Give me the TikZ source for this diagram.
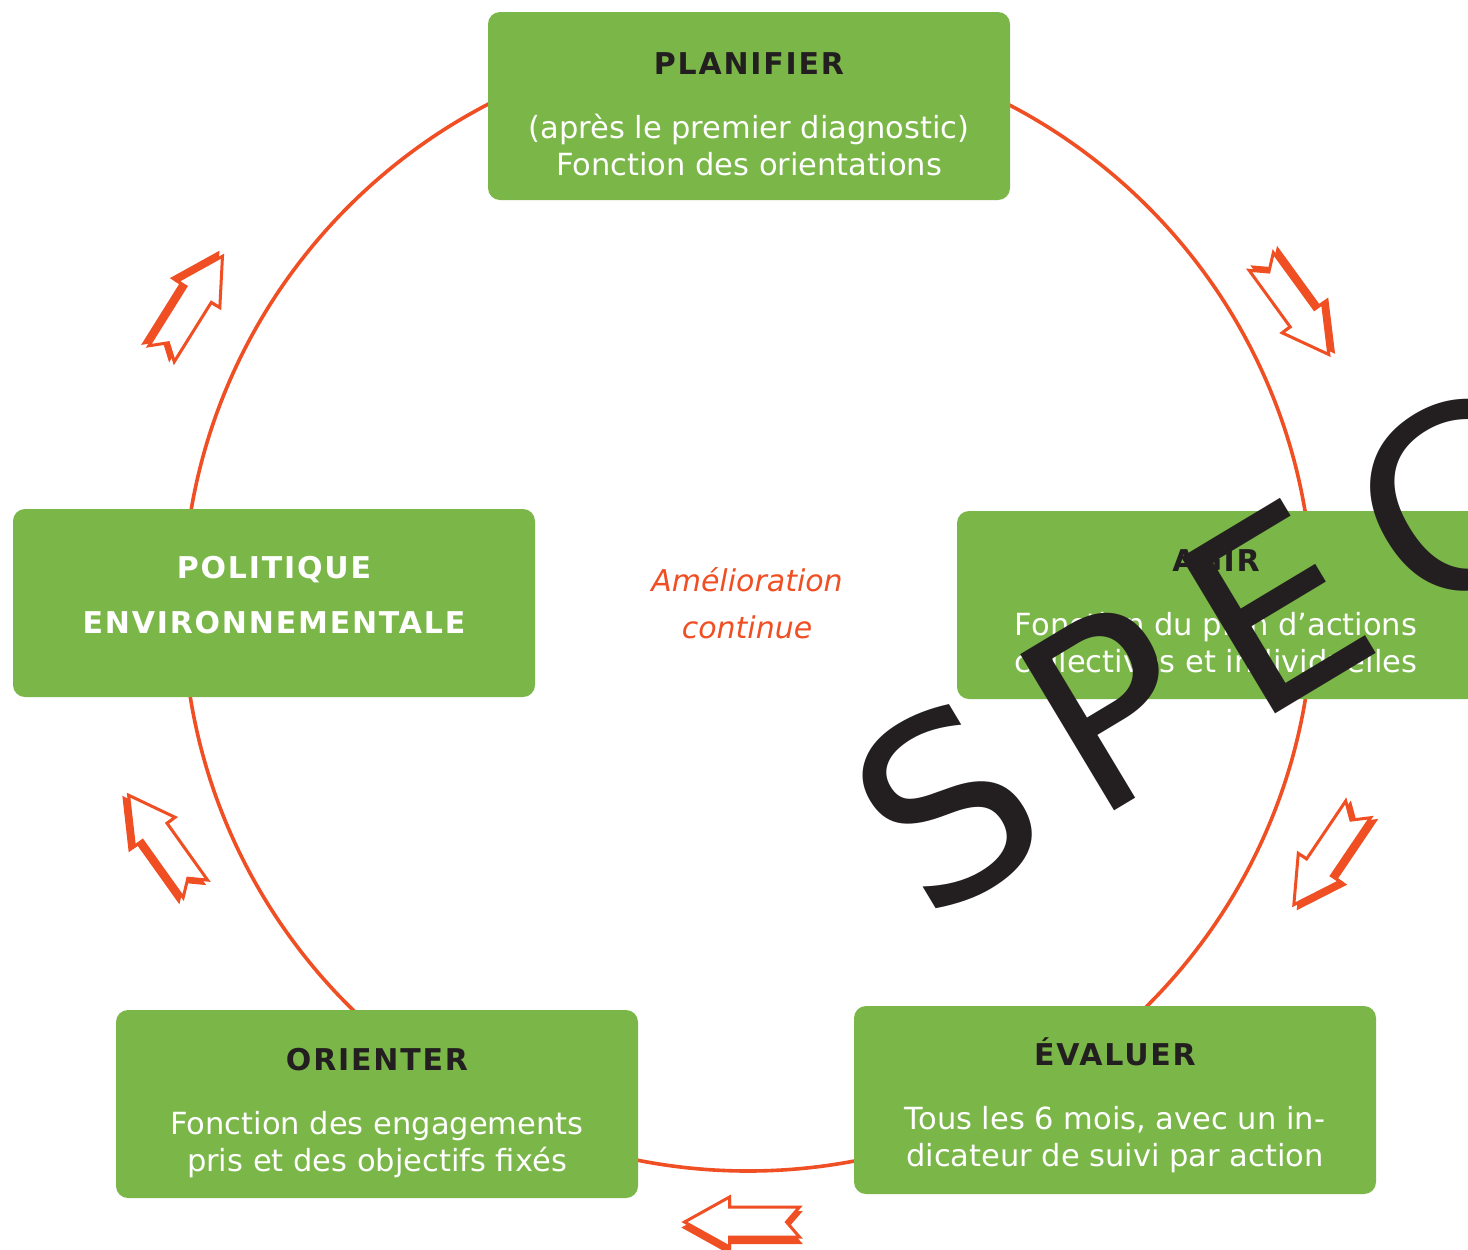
\documentclass[tikz,border=0pt]{standalone}
\usepackage{fontspec}
\setmainfont{DejaVu Sans}
\newfontfamily\titlefont{DejaVu Sans}[LetterSpace=6]
\newfontfamily\wmfont{DejaVu Sans}[LetterSpace=15]
\definecolor{boxgreen}{RGB}{122,182,72}
\definecolor{cycorange}{RGB}{240,78,35}
\definecolor{titledark}{RGB}{35,31,32}
\tikzset{
  box/.style={fill=boxgreen, rounded corners=6pt, minimum width=261pt, minimum height=94pt, inner sep=0pt, draw=none},
  ttl/.style={anchor=base, inner sep=0pt, text=titledark, font=\titlefont\bfseries\fontsize{15}{18}\selectfont},
  ttlw/.style={ttl, text=white},
  body/.style={anchor=base, inner sep=0pt, text=white, font=\fontsize{15.25}{18}\selectfont},
  mid/.style={anchor=base, inner sep=0pt, text=cycorange, font=\itshape\fontsize{15}{18}\selectfont},
  cycarr/.pic={
    \begin{scope}[shift={(0,-5.5)}]
      \filldraw[fill=cycorange, draw=cycorange, line width=1.5pt, line join=miter]
        (57.5,0) -- (12.5,25) -- (12.5,15) -- (-57.5,15) -- (-44.5,0) -- (-57.5,-15) -- (12.5,-15) -- (12.5,-25) -- cycle;
    \end{scope}
    \filldraw[fill=white, draw=cycorange, line width=1.5pt, line join=miter]
      (57.5,0) -- (12.5,25) -- (12.5,15) -- (-57.5,15) -- (-44.5,0) -- (-57.5,-15) -- (12.5,-15) -- (12.5,-25) -- cycle;
  }
}
\begin{document}
\begin{tikzpicture}[x=0.5pt, y=-0.5pt]
\useasboundingbox (0,0) rectangle (1468,1249);
\clip (0,0) rectangle (1468,1249);
\fill[white] (0,0) rectangle (1468,1249);

\coordinate (c) at (748,606);
\draw[cycorange, line width=1.8pt] (c) circle [radius=282.5pt];

% boxes
\node[box] (planbox) at (749,106) {};
\node[box] (polbox) at (274,603) {};
\node[box] (agirbox) at (1218,605) {};
\node[box] (evalbox) at (1115,1100) {};
\node[box] (oribox) at (377,1104) {};

% texts
\node[ttl] (plant) at (749,74) {PLANIFIER};
\node[body] (planb1) at (749,138) {(après le premier diagnostic)};
\node[body] (planb2) at (749,175) {Fonction des orientations};

\node[ttlw] (polt1) at (274,578) {POLITIQUE};
\node[ttlw] (polt2) at (274,633) {ENVIRONNEMENTALE};

\node[ttl] (agirt) at (1216,571) {AGIR};
\node[body] (agirb1) at (1216,635) {Fonction du plan d’actions};
\node[body] (agirb2) at (1216,672) {collectives et individuelles};

\node[ttl] (evalt) at (1115,1065) {ÉVALUER};
\node[body] (evalb1) at (1115,1129) {Tous les 6 mois, avec un in-};
\node[body] (evalb2) at (1115,1166) {dicateur de suivi par action};

\node[ttl] (orit) at (377,1070) {ORIENTER};
\node[body] (orib1) at (377,1134) {Fonction des engagements};
\node[body] (orib2) at (377,1171) {pris et des objectifs fixés};

\node[mid] (amel) at (747,591) {Amélioration};
\node[mid] (cont) at (747,638) {continue};

% arrows
\pic[rotate=58] at (192,305) {cycarr};
\pic[rotate=-54] at (1295,308) {cycarr};
\pic[rotate=-124] at (1326,857) {cycarr};
\pic[rotate=180] at (742,1222) {cycarr};
\pic[rotate=125.5] at (162,842) {cycarr};

% watermark
\node[anchor=base west, rotate=31, inner sep=0pt, text=titledark, font=\wmfont\fontsize{125}{125}\selectfont] (wm) at (925,925) {SPECIMEN};
\end{tikzpicture}
\end{document}
